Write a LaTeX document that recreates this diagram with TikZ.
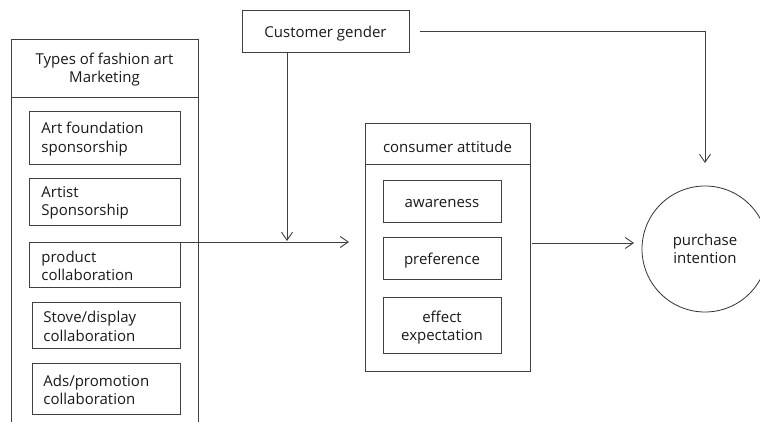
\documentclass[tikz,border=0pt]{standalone}
\usepackage{fontspec}
\setmainfont{Open Sans}
\usetikzlibrary{arrows.meta,positioning}
\begin{document}
\begin{tikzpicture}[x=1pt,y=-1pt,
  line width=0.9pt, color=black!75,
  lbl/.style={font=\fontsize{15}{18.5}\selectfont, text=black!90, inner sep=0pt, yshift=-1.5pt},
  arr/.style={-{Straight Barb[length=8pt,width=11pt,line width=0.9pt]}}]
\useasboundingbox (0,0) rectangle (760,422);
% left group
\draw (11,430) -- (11,39) -- (198,39) -- (198,430);
\draw (11,97) -- (198,97);
\node[lbl, align=center] (lt) at (104.5,68) {Types of fashion art\\Marketing};
\draw (29,111) rectangle (180,164);
\draw (29,178) rectangle (180,225);
\draw (29,242) rectangle (180,287);
\draw (32,302) rectangle (180,348);
\draw (32,363) rectangle (180,414);
\node[lbl, align=left, anchor=west] (b1) at (41,137.5) {Art foundation\\sponsorship};
\node[lbl, align=left, anchor=west] (b2) at (41,201.5) {Artist\\Sponsorship};
\node[lbl, align=left, anchor=west] (b3) at (41,264.5) {product\\collaboration};
\node[lbl, align=left, anchor=west] (b4) at (43,325) {Stove/display\\collaboration};
\node[lbl, align=left, anchor=west] (b5) at (43,388.5) {Ads/promotion\\collaboration};
\coordinate (b3c) at (180,242);
% customer gender
\draw (242,10) rectangle (409,52);
\node[lbl] (cg) at (325.5,32) {Customer gender};
\coordinate (cgb) at (287,52);
\coordinate (cgr) at (420,31);
% consumer attitude
\draw (365,123) rectangle (530,371);
\draw (365,164) -- (530,164);
\node[lbl] (ca) at (447.5,145) {consumer attitude};
\draw (383,180) rectangle (501,222);
\draw (383,237) rectangle (501,279);
\draw (383,297) rectangle (501,353);
\node[lbl] (aw) at (442,202) {awareness};
\node[lbl] (pr) at (442,259) {preference};
\node[lbl, align=center] (ee) at (442,326) {effect\\expectation};
% purchase intention
\node[draw=black!80, circle, minimum size=126pt, line width=0.8pt, lbl, yshift=1.5pt, align=center] (pi) at (705,249) {purchase\\intention};
% connectors
\draw[arr] (b3c) -- (349,242);
\draw[arr] (cgb) -- (287,241);
\draw[arr] (cgr) -- (705,31) -- (705,163);
\draw[arr] (532,243) -- (634,243);
\end{tikzpicture}
\end{document}
